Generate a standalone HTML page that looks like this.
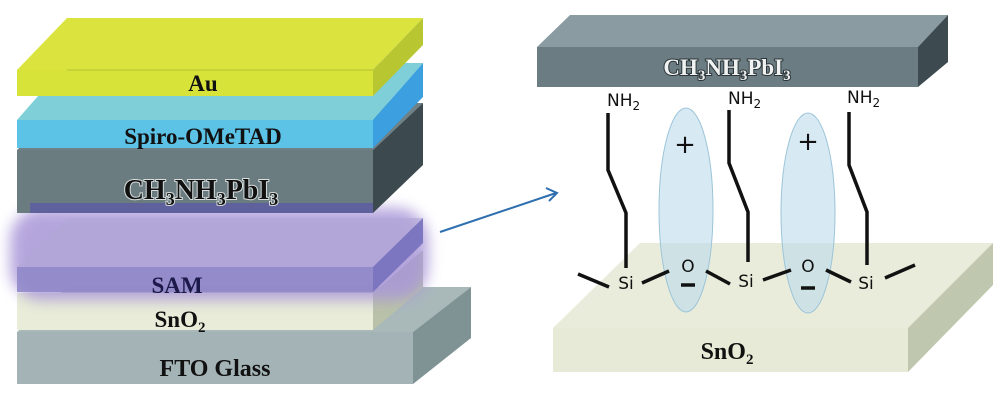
<!DOCTYPE html>
<html><head><meta charset="utf-8"><style>
html,body{margin:0;padding:0;background:#fff;}
svg{display:block;}
.l{font-family:"Liberation Serif",serif;font-weight:bold;}
.c{font-family:"DejaVu Sans","Liberation Sans",sans-serif;}
.o{paint-order:stroke;}
</style></head><body>
<svg width="1000" height="400" viewBox="0 0 1000 400" xmlns="http://www.w3.org/2000/svg">
<defs>
<filter id="blur" x="-20%" y="-40%" width="140%" height="180%"><feGaussianBlur stdDeviation="7"/></filter>
</defs>
<!-- FTO -->
<polygon points="67,287 471,287 413,332 17,332" fill="#a9b9ba"/>
<polygon points="17,332 413,332 413,384 17,384" fill="#a3b3b6"/>
<polygon points="413,332 471,287 471,338 413,384" fill="#7f9294"/>
<!-- SnO2 -->
<polygon points="17,293 373,293 373,330 17,330" fill="#e8ecd8"/>
<polygon points="373,293 423,250 423,288 373,330" fill="#b9c2a8"/>
<!-- glow -->
<rect x="10" y="208" width="418" height="92" rx="32" fill="#a996d8" opacity="0.85" filter="url(#blur)"/>
<!-- SAM -->
<polygon points="67,218 423,218 373,267 17,267" fill="#b0a6d6" opacity="0.6"/>
<polygon points="17,267 373,267 373,292 17,292" fill="#8e86c8" opacity="0.85"/>
<polygon points="373,267 423,218 423,243 373,292" fill="#7570bc" opacity="0.9"/>
<!-- Perovskite -->
<polygon points="67,103 423,103 373,150 17,150" fill="#6f8187"/>
<polygon points="17,150 373,150 373,213 17,213" fill="#6b7c80"/>
<polygon points="373,150 423,103 423,165 373,213" fill="#3c4a50"/>
<rect x="30" y="203" width="343" height="10" fill="#5a55a8" opacity="0.7"/>
<!-- Spiro -->
<polygon points="67,63 423,63 373,120 17,120" fill="#7fcfd8"/>
<polygon points="17,120 373,120 373,148 17,148" fill="#5cc3e6"/>
<polygon points="373,120 423,63 423,97 373,148" fill="#3b9fe0"/>
<!-- Au -->
<polygon points="67,18 423,18 373,70 17,70" fill="#dbe33f"/>
<polygon points="17,70 373,70 373,96 17,96" fill="#d8e33a"/>
<polygon points="373,70 423,18 423,45 373,96" fill="#b7c631"/>
<line x1="67" y1="70" x2="373" y2="70" stroke="#b4c030" stroke-width="1"/>
<!-- left labels -->
<text class="l" x="203" y="91" font-size="23" text-anchor="middle" fill="#111">Au</text>
<text class="l" x="203" y="144" font-size="23" text-anchor="middle" fill="#111">Spiro-OMeTAD</text>
<text class="l o" x="201" y="199" font-size="28" text-anchor="middle" fill="#111" stroke="#d8dede" stroke-width="2">CH<tspan font-size="18" dy="6">3</tspan><tspan dy="-6">NH</tspan><tspan font-size="18" dy="6">3</tspan><tspan dy="-6">PbI</tspan><tspan font-size="18" dy="6">3</tspan></text>
<text class="l" x="177" y="293" font-size="23" text-anchor="middle" fill="#1c1a4a">SAM</text>
<text class="l" x="180" y="327" font-size="23" text-anchor="middle" fill="#111">SnO<tspan font-size="15" dy="5">2</tspan></text>
<text class="l" x="215" y="376" font-size="24" text-anchor="middle" fill="#111">FTO Glass</text>
<!-- arrow -->
<line x1="440" y1="232" x2="556" y2="193" stroke="#2e6fb0" stroke-width="2"/>
<polyline points="546,188 557,193 549,201" fill="none" stroke="#2e6fb0" stroke-width="2"/>
<!-- right SnO2 slab -->
<polygon points="640,243 993,243 908,328 553,328" fill="#e9ecdb"/>
<polygon points="553,328 908,328 908,372 553,372" fill="#e7ead6"/>
<polygon points="908,328 993,243 993,285 908,372" fill="#bfc7ae"/>
<text class="l" x="727" y="359" font-size="24" text-anchor="middle" fill="#111">SnO<tspan font-size="15" dy="5">2</tspan></text>
<!-- right perovskite slab -->
<polygon points="570,15 948,15 918,47 537,47" fill="#8a9ca2"/>
<polygon points="537,47 918,47 918,87 537,87" fill="#6b7d82"/>
<polygon points="918,47 948,15 948,62 918,87" fill="#3d4b50"/>
<text class="l o" x="727" y="75" font-size="23" text-anchor="middle" fill="#f0f2f2" stroke="#2a3438" stroke-width="2">CH<tspan font-size="15" dy="5">3</tspan><tspan dy="-5">NH</tspan><tspan font-size="15" dy="5">3</tspan><tspan dy="-5">PbI</tspan><tspan font-size="15" dy="5">3</tspan></text>
<!-- ellipses -->
<ellipse cx="686" cy="210" rx="27" ry="102" fill="#bcdcec" fill-opacity="0.6" stroke="#9cc4d8" stroke-width="1"/>
<ellipse cx="808" cy="213" rx="27" ry="100" fill="#bcdcec" fill-opacity="0.6" stroke="#9cc4d8" stroke-width="1"/>
<text class="c" x="685" y="153" font-size="26" text-anchor="middle" fill="#111">+</text>
<text class="c" x="808" y="150" font-size="26" text-anchor="middle" fill="#111">+</text>
<!-- chains -->
<g fill="none" stroke="#111" stroke-width="3.5">
<polyline points="608,113 608,170 626,213 626,268"/>
<polyline points="729,110 729,163 748,212 748,262"/>
<polyline points="849,112 849,165 867,212 867,265"/>
<line x1="578" y1="274" x2="609" y2="287"/>
<line x1="642" y1="283" x2="669" y2="271"/>
<line x1="706" y1="271" x2="730" y2="284"/>
<line x1="763" y1="280" x2="791" y2="270"/>
<line x1="826" y1="270" x2="851" y2="282"/>
<line x1="885" y1="278" x2="915" y2="265"/>
<line x1="681" y1="285" x2="695" y2="285"/>
<line x1="801" y1="288" x2="815" y2="288"/>
</g>
<g class="c" font-size="17" fill="#111">
<text x="626" y="289" text-anchor="middle">Si</text>
<text x="746" y="287" text-anchor="middle">Si</text>
<text x="866" y="289" text-anchor="middle">Si</text>
<text x="688" y="272" text-anchor="middle">O</text>
<text x="808" y="272" text-anchor="middle">O</text>
<text x="607" y="106">NH<tspan font-size="12" dy="4">2</tspan></text>
<text x="728" y="104">NH<tspan font-size="12" dy="4">2</tspan></text>
<text x="847" y="103">NH<tspan font-size="12" dy="4">2</tspan></text>
</g>
</svg>
</body></html>
